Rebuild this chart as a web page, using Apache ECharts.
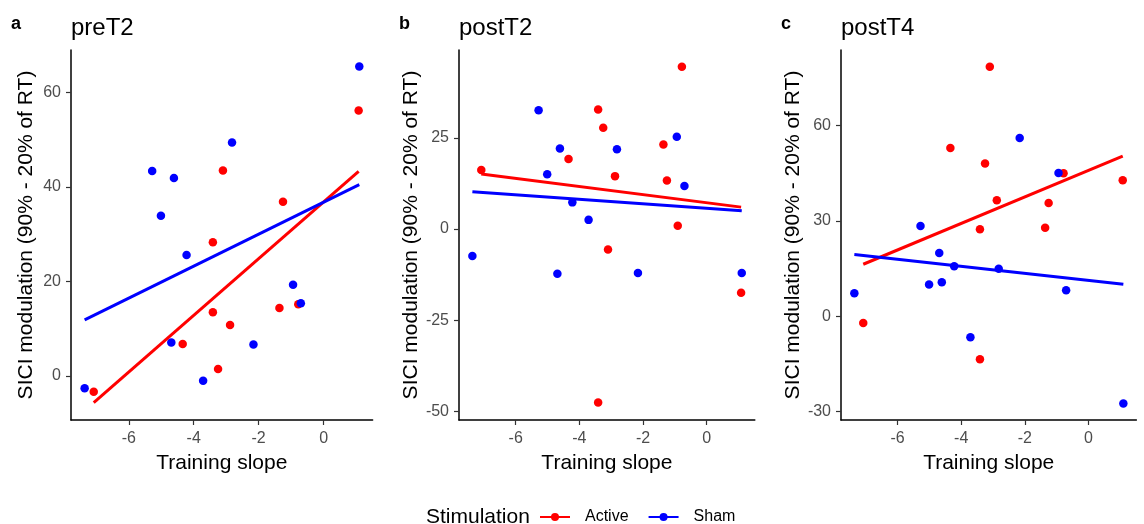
<!DOCTYPE html>
<html>
<head>
<meta charset="utf-8">
<script src="https://cdn.jsdelivr.net/npm/echarts@6/dist/echarts.min.js"></script>
<style>
html, body { margin: 0; padding: 0; background: #fff; }
#myChart { width: 1144px; height: 524px; }
</style>
</head>
<body>
<div id="myChart"></div>
<script>
var panelNames = ['preT2', 'postT2', 'postT4'];
var panelTags = ['a', 'b', 'c'];

// training slope per subject
var shamSlope = [-7.36, -5.28, -5.01, -4.69, -4.61, -4.22, -3.71, -2.82, -2.16, -0.94, -0.70, 1.10];
var activeSlope = [-7.08, -4.34, -3.41, -3.41, -3.25, -3.10, -2.88, -1.36, -1.25, -0.91, -0.78, 1.08];

// SICI modulation per subject
var shamPreT2 = [-2.6, 43.4, 33.9, 7.1, 41.9, 25.6, -1.0, 49.4, 6.7, 19.3, 15.4, 65.5];
var shamPostT2 = [-7.4, 32.6, 15.0, -12.3, 22.1, 7.3, 2.5, 21.9, -12.1, 25.3, 11.8, -12.1];
var shamPostT4 = [7.3, 28.4, 10.0, 19.9, 10.7, 15.8, -6.6, 15.0, 56.1, 45.1, 8.2, -27.4];
var activePreT2 = [-3.3, 6.8, 28.3, 13.5, 1.5, 43.5, 10.8, 14.4, 36.9, null, 15.2, 56.2];
var activePostT2 = [16.2, 19.2, 32.8, -47.6, 27.8, -5.6, 14.5, 23.2, 13.3, 0.9, 44.5, -17.5];
var activePostT4 = [-2.1, 53.0, 27.4, -13.5, 48.1, 78.5, 36.5, 27.9, 35.7, null, 45.0, 42.8];

// fitted line values at the ends of each group's slope range
var activeFitStart = [-5.6, 15.1, 16.4];
var activeFitEnd = [43.3, 6.0, 50.4];
var shamFitStart = [11.9, 10.2, 19.5];
var shamFitEnd = [40.5, 5.0, 10.1];

var xTicks = [-6, -4, -2, 0];
var yTicks = [[0, 20, 40, 60], [-50, -25, 0, 25], [-30, 0, 30, 60]];
var yMin = [-9.3, -52.4, -32.6];
var yMax = [69.0, 49.1, 83.8];
var xMin = -7.78, xMax = 1.51;

var shamY = [shamPreT2, shamPostT2, shamPostT4];
var activeY = [activePreT2, activePostT2, activePostT4];

var gridLeft = [71, 459, 841];
var gridWidth = [301.6, 295.8, 295.4];
var nameGapY = [34, 37, 37];

var RED = '#FF0000', BLUE = '#0000FF';
var FONT = 'Liberation Sans, Arial, sans-serif';

var pairs = function(xs, ys) {
    var res = [];
    for (var i = 0; i < xs.length; i++) {
        if (ys[i] !== null) res.push([xs[i], ys[i]]);
    }
    return res;
};

var minOf = function(a) { return Math.min.apply(null, a); };
var maxOf = function(a) { return Math.max.apply(null, a); };

var grids = [], xAxes = [], yAxes = [], series = [], titles = [];

for (var p = 0; p < 3; p++) {
    grids.push({ left: gridLeft[p], top: 50, width: gridWidth[p], height: 370 });

    xAxes.push({
        type: 'value', gridIndex: p, min: xMin, max: xMax,
        name: 'Training slope', nameLocation: 'middle', nameGap: 33,
        nameTextStyle: { fontFamily: FONT, fontSize: 21, color: '#000' },
        axisLine: { onZero: false, lineStyle: { color: '#000', width: 1.5 } },
        axisTick: { customValues: xTicks, length: 5, lineStyle: { color: '#333', width: 1.2 } },
        axisLabel: { customValues: xTicks, margin: 11, fontFamily: FONT, fontSize: 16, color: '#4D4D4D' },
        splitLine: { show: false }
    });

    yAxes.push({
        type: 'value', gridIndex: p, min: yMin[p], max: yMax[p],
        name: 'SICI modulation (90% - 20% of RT)', nameLocation: 'middle', nameGap: nameGapY[p],
        nameTextStyle: { fontFamily: FONT, fontSize: 21, color: '#000' },
        axisLine: { onZero: false, lineStyle: { color: '#000', width: 1.5 } },
        axisTick: { customValues: yTicks[p], length: 5, lineStyle: { color: '#333', width: 1.2 } },
        axisLabel: { customValues: yTicks[p], margin: 10, fontFamily: FONT, fontSize: 16, color: '#4D4D4D' },
        splitLine: { show: false }
    });

    titles.push({
        text: panelTags[p], left: gridLeft[p] - 65, top: 10,
        textStyle: { fontFamily: FONT, fontSize: 18, fontWeight: 'bold', color: '#000' }
    });
    titles.push({
        text: panelNames[p], left: gridLeft[p] - 5, top: 11,
        textStyle: { fontFamily: FONT, fontSize: 24, fontWeight: 'normal', color: '#000' }
    });

    series.push({
        name: 'Active', type: 'line', xAxisIndex: p, yAxisIndex: p, z: 4,
        symbol: 'circle', showSymbol: false, silent: true, color: RED,
        lineStyle: { color: RED, width: 3 },
        data: [[minOf(activeSlope), activeFitStart[p]], [maxOf(activeSlope), activeFitEnd[p]]]
    });
    series.push({
        name: 'Sham', type: 'line', xAxisIndex: p, yAxisIndex: p, z: 4,
        symbol: 'circle', showSymbol: false, silent: true, color: BLUE,
        lineStyle: { color: BLUE, width: 3 },
        data: [[minOf(shamSlope), shamFitStart[p]], [maxOf(shamSlope), shamFitEnd[p]]]
    });
    series.push({
        name: 'Active', type: 'scatter', xAxisIndex: p, yAxisIndex: p, z: 2,
        symbolSize: 8.5, itemStyle: { color: RED, opacity: 1 },
        data: pairs(activeSlope, activeY[p])
    });
    series.push({
        name: 'Sham', type: 'scatter', xAxisIndex: p, yAxisIndex: p, z: 3,
        symbolSize: 8.5, itemStyle: { color: BLUE, opacity: 1 },
        data: pairs(shamSlope, shamY[p])
    });
}

titles.push({
    text: 'Stimulation', left: 421, top: 502,
    textStyle: { fontFamily: FONT, fontSize: 21, fontWeight: 'normal', color: '#000' }
});

var myChart = echarts.init(document.getElementById('myChart'), null, { renderer: 'canvas' });

var option = {
    backgroundColor: '#fff',
    animation: false,
    title: titles,
    legend: {
        data: ['Active', 'Sham'],
        left: 534, top: 504,
        itemWidth: 30, itemHeight: 10, itemGap: 19,
        textStyle: { fontFamily: FONT, fontSize: 16, color: '#000', padding: [0, 0, 0, 10] }
    },
    grid: grids,
    xAxis: xAxes,
    yAxis: yAxes,
    series: series
};

myChart.setOption(option);
</script>
</body>
</html>
